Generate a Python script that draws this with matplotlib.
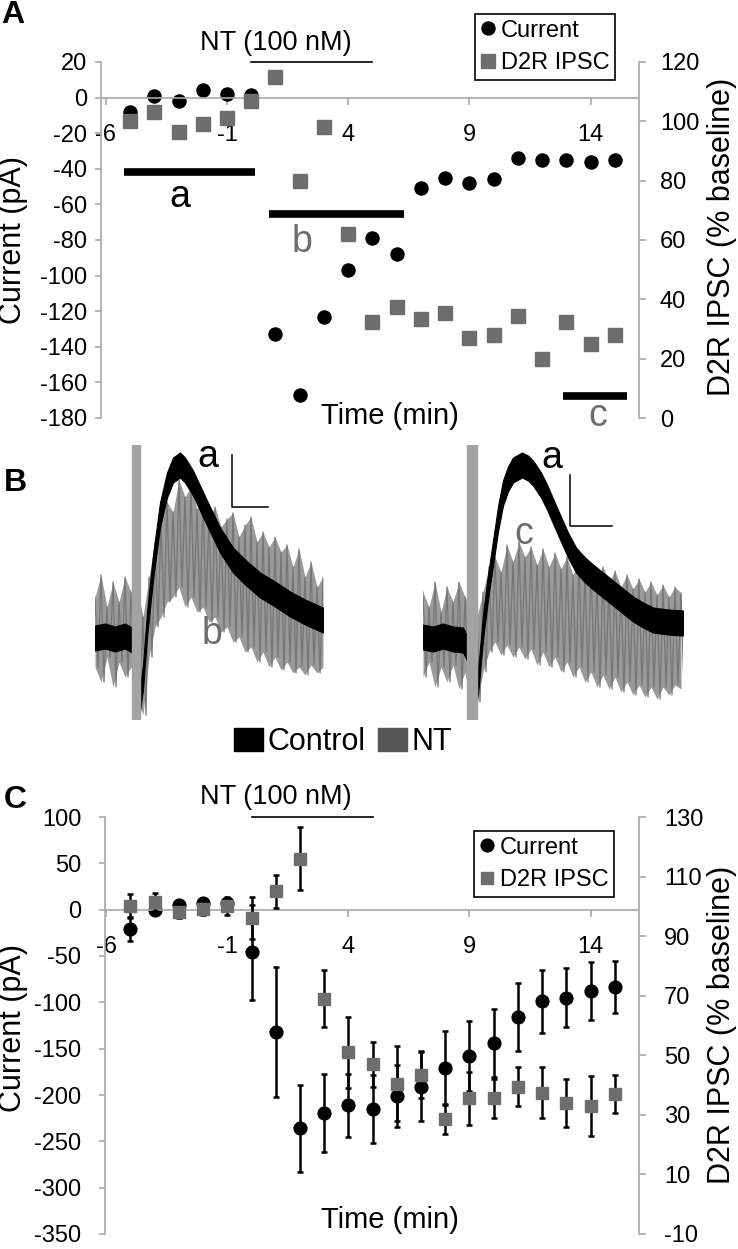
import matplotlib.pyplot as plt
import matplotlib.transforms as mtransforms
import numpy as np
from matplotlib.patches import Patch
from matplotlib.lines import Line2D

plt.rcParams['font.family'] = ['Liberation Sans', 'DejaVu Sans']
plt.rcParams['axes.unicode_minus'] = False

W, H = 738, 1249
AXIS_GREY = '#a8a8a8'
SQ_GREY = '#6d6d6d'
TRACE_GREY = '#9a9a9a'

# ---------------- panel A: one cell ----------------
time_a = list(range(-5, 16))
current_a = [-8, 1, -2, 4, 2, 1.5, -133, -167, -123, -97, -79, -88,
             -51, -45, -48, -46, -34, -35, -35, -36, -35]
ipsc_a = [100, 103, 96.5, 99, 101, 107, 115, 80, 98, 62, 32.5, 37.5,
          33.5, 35.5, 27, 28, 34.5, 20, 32.5, 25, 28]

period_names = ['a', 'b', 'c']
period_start = [-5.25, 0.75, 12.85]
period_end = [0.15, 6.3, 15.5]
period_level = [-42, -65.5, -167.5]
period_label_x = [-2.95, 2.1, 14.3]
period_label_y = [-55.8, -81, -179]

nt_start, nt_end = 0, 5
time_ticks = [-6, -1, 4, 9, 14]

# ---------------- panel B: example traces ----------------
# left pair (a vs b), sample times relative to trace start, amplitude re baseline
ctrl_t_ab = [0, 10, 20, 30, 37, 42, 45, 48, 52, 58, 65, 72, 78, 85, 90, 98,
             105, 112, 125, 138, 150, 165, 180, 195, 210, 228]
ctrl_ab = [-1, 1, -2, 1, -3, -30, -62, -40, 12, 70, 122, 152, 167, 172, 167,
           154, 139, 124, 97, 77, 65, 52, 43, 33, 25, 17]
nt_t_b = np.arange(0, 229, 6)
nt_b_hi = [40, 62, 30, 55, 35, 60, 45, 50, 20, 60, 95, 115, 135, 125, 157,
           140, 150, 128, 140, 120, 130, 110, 118, 124, 100, 112, 120, 95,
           105, 90, 100, 85, 92, 70, 88, 60, 75, 50, 60]
nt_b_lo = [-30, -45, -20, -50, -25, -40, -30, -60, -78, -20, 10, 20, 35, 40,
           50, 30, 40, 25, 30, 15, 20, 5, 10, -5, 0, -15, -10, -25, -15, -30,
           -20, -33, -25, -36, -30, -38, -28, -36, -30]
stim_ab = (37, 45)

# right pair (a vs c)
ctrl_t_ac = [0, 10, 20, 30, 40, 46, 50, 53, 56, 60, 65, 70, 75, 80, 85, 90,
             99, 105, 110, 118, 124, 130, 137, 145, 153, 162, 170, 180, 190,
             200, 210, 220, 230, 245, 260]
ctrl_ac = [0, -2, 1, -2, -3, -15, -45, -60, -35, 10, 50, 84, 118, 144, 158,
           167, 172, 169, 164, 152, 140, 126, 110, 92, 77, 67, 60, 52, 44, 36,
           28, 22, 17, 15, 14]
nt_t_c = np.arange(0, 259, 6)
nt_c_hi = [45, 30, 55, 25, 50, 35, 55, 40, 30, 20, 45, 70, 80, 65, 92, 75,
           95, 80, 90, 72, 88, 70, 84, 68, 80, 62, 78, 65, 74, 58, 70, 55, 66,
           50, 62, 48, 58, 45, 55, 42, 52, 40, 50, 44]
nt_c_lo = [-40, -25, -50, -30, -45, -28, -52, -35, -70, -65, -35, -15, -5,
           -18, -8, -20, -10, -22, -12, -28, -15, -30, -20, -35, -25, -40, -30,
           -45, -35, -50, -38, -52, -40, -55, -45, -58, -48, -60, -50, -62,
           -50, -58, -48, -52]
stim_ac = (44, 54)

# ---------------- panel C: group averages ----------------
time_c = list(range(-5, 16))
current_c = [-21, 0, 5, 7, 7, -46, -132, -236, -219, -211, -215, -201, -191,
             -171, -158, -144, -116, -99, -95, -88, -83]
current_c_err = [13, 3, 3, 3, 3, 51, 70, 47, 42, 34, 37, 33, 37, 40, 38, 37,
                 37, 34, 32, 31, 28]
ipsc_c = [100, 101.5, 98, 99, 100, 96, 105, 116, 69, 51, 47, 40.5, 43.5,
          28.5, 35.5, 35.5, 39.5, 37.5, 34, 33, 37]
ipsc_c_err = [4, 3, 2, 2, 3, 7, 5.5, 10.5, 9.5, 12, 7.5, 12.5, 8, 5, 9, 6.5,
              6.5, 8.5, 8, 10, 6.5]

fig = plt.figure(figsize=(W / 100, H / 100), dpi=100)


def px_axes(x0, y0, x1, y1):
    return fig.add_axes([x0 / W, 1 - y1 / H, (x1 - x0) / W, (y1 - y0) / H])


def style_time(ax, ax2, xlim, ylim, ystep, ylim2, ystep2, lpad, rpad):
    ax.set_xlim(xlim)
    ax.set_ylim(ylim)
    ax.set_xticks(time_ticks)
    ax.set_yticks(np.arange(ylim[0], ylim[1] + 1, ystep))
    ax2.set_ylim(ylim2)
    ax2.set_yticks(np.arange(ylim2[0], ylim2[1] + 1, ystep2))
    ax.spines['bottom'].set_position(('data', 0))
    for a in (ax, ax2):
        a.spines['top'].set_visible(False)
        for s in a.spines.values():
            s.set_color(AXIS_GREY)
            s.set_linewidth(1.2)
    ax.spines['right'].set_visible(False)
    ax2.spines['left'].set_visible(False)
    ax2.spines['bottom'].set_visible(False)
    ax.tick_params(axis='x', length=5, width=1.2, pad=14, color=AXIS_GREY,
                   labelsize=17)
    ax.tick_params(axis='y', length=4, width=1.2, pad=lpad, color=AXIS_GREY,
                   labelsize=17)
    ax2.tick_params(axis='y', length=5, width=1.2, pad=rpad, color=AXIS_GREY,
                    labelsize=17)


def nt_bar(ax, text_x, text_y):
    top = ax.get_ylim()[1]
    ax.plot([nt_start, nt_end], [top, top], color='black', lw=1.2,
            clip_on=False)
    tr = mtransforms.blended_transform_factory(ax.transData, ax.transAxes)
    ax.text(text_x, text_y, 'NT (100 nM)', transform=tr, ha='center',
            va='center', fontsize=19.5)


legend_kw = dict(loc='upper left', frameon=True, fancybox=False,
                 edgecolor='black', framealpha=1, fontsize=17, borderpad=0.25,
                 labelspacing=0.45, handlelength=0.6, handletextpad=0.25)

# ---- A ----
axA = px_axes(101, 62, 639, 418)
axA2 = axA.twinx()
style_time(axA, axA2, (-6.2, 16), (-180, 20), 20, (0, 120), 20, 6, 10)
hA1, = axA.plot(time_a, current_a, 'o', color='black', ms=9.4, clip_on=False)
hA2, = axA2.plot(time_a, ipsc_a, 's', color=SQ_GREY, ms=9.4, clip_on=False)
for name, s, e, lvl, lx, ly in zip(period_names, period_start, period_end,
                                   period_level, period_label_x,
                                   period_label_y):
    axA.plot([s, e], [lvl, lvl], color='black', lw=5.5,
             solid_capstyle='butt', clip_on=False)
    axA.text(lx, ly, name, ha='center', va='center', fontsize=27,
             color='black' if name == 'a' else SQ_GREY)
nt_bar(axA, 1.0, 1.053)
legA = fig.legend([hA1, hA2], ['Current', 'D2R IPSC'],
                  bbox_to_anchor=(463 / W, 1 - 2 / H), **legend_kw)
legA.get_frame().set_linewidth(1.2)

fig.text(13.5 / W, 1 - 240 / H, 'Current (pA)', rotation=90, ha='center',
         va='center', fontsize=22)
fig.text(722 / W, 1 - 237 / H, 'D2R IPSC (% baseline)', rotation=90,
         ha='center', va='center', fontsize=22)
fig.text(390 / W, 1 - 416 / H, 'Time (min)', ha='center', va='center',
         fontsize=21)

# ---- B ----
hw = 12.5
for box, t_c, ctrl, t_n, lo, hi, stim, xmax in [
        ((95, 445, 323, 720), ctrl_t_ab, ctrl_ab, nt_t_b, nt_b_lo, nt_b_hi,
         stim_ab, 228),
        ((423, 445, 683, 720), ctrl_t_ac, ctrl_ac, nt_t_c, nt_c_lo, nt_c_hi,
         stim_ac, 260)]:
    axt = px_axes(*box)
    axt.set_xlim(0, xmax)
    axt.set_ylim(-83, 192)
    axt.axis('off')
    axt.fill_between(t_n, lo, hi, color=TRACE_GREY, lw=0, zorder=2)
    # noisy NT sweep: alternate between the upper and lower excursions
    zz_t = np.column_stack([t_n, t_n + 3]).ravel()
    zz_v = np.column_stack([hi, lo]).ravel()
    axt.plot(zz_t, zz_v, color='#767676', lw=0.9, zorder=2)
    mid = np.array(ctrl)
    axt.fill_between(t_c, mid - hw, mid + hw, color='black', lw=0.8, zorder=3)
    axt.axvspan(stim[0], stim[1], color='#a3a3a3', zorder=4)
    if xmax == 228:
        axt.plot([137, 137, 173], [182, 130, 130], color='black', lw=1.1)
        axt.text(113, 180, 'a', ha='center', va='center', fontsize=27)
        axt.text(117, 3, 'b', ha='center', va='center', fontsize=27,
                 color=SQ_GREY, zorder=5)
    else:
        axt.plot([147, 147, 189], [162, 111, 111], color='black', lw=1.1)
        axt.text(129, 179, 'a', ha='center', va='center', fontsize=27)
        axt.text(101, 103, 'c', ha='center', va='center', fontsize=27,
                 color=SQ_GREY, zorder=5)

fig.legend([Patch(color='black'), Patch(color='#555555')], ['Control', 'NT'],
           loc='center', bbox_to_anchor=(343 / W, 1 - 742 / H), ncol=2,
           frameon=False, fontsize=22, handlelength=0.95, handleheight=0.8,
           handletextpad=0.15, columnspacing=0.4)

# ---- C ----
axC = px_axes(105, 817, 639, 1234)
axC2 = axC.twinx()
style_time(axC, axC2, (-6.05, 16), (-350, 100), 50, (-10, 130), 20, 13, 13)
axC.errorbar(time_c, current_c, yerr=current_c_err, fmt='o', color='black',
             ms=9.2, elinewidth=1.8, capsize=2.2, capthick=1.8, clip_on=False)
axC2.errorbar(time_c, ipsc_c, yerr=ipsc_c_err, fmt='s', mfc=SQ_GREY,
              mec=SQ_GREY, ecolor='black', ms=9.2, elinewidth=1.8,
              capsize=2.2, capthick=1.8, clip_on=False)
nt_bar(axC, 1.0, 1.0475)
hC1 = Line2D([], [], marker='o', ls='none', color='black', ms=9.2)
hC2 = Line2D([], [], marker='s', ls='none', color=SQ_GREY, ms=9.2)
legC = fig.legend([hC1, hC2], ['Current', 'D2R IPSC'],
                  bbox_to_anchor=(462 / W, 1 - 819 / H), **legend_kw)
legC.get_frame().set_linewidth(1.2)

fig.text(13.5 / W, 1 - 1028 / H, 'Current (pA)', rotation=90, ha='center',
         va='center', fontsize=22)
fig.text(722 / W, 1 - 1025 / H, 'D2R IPSC (% baseline)', rotation=90,
         ha='center', va='center', fontsize=22)
fig.text(390 / W, 1 - 1220 / H, 'Time (min)', ha='center', va='center',
         fontsize=21)

for letter, (lx, ly) in zip('ABC', [(13, 15), (15, 483), (15, 800)]):
    fig.text(lx / W, 1 - ly / H, letter, ha='center', va='center',
             fontsize=23, fontweight='bold')

fig.savefig('out.png', dpi=100)
